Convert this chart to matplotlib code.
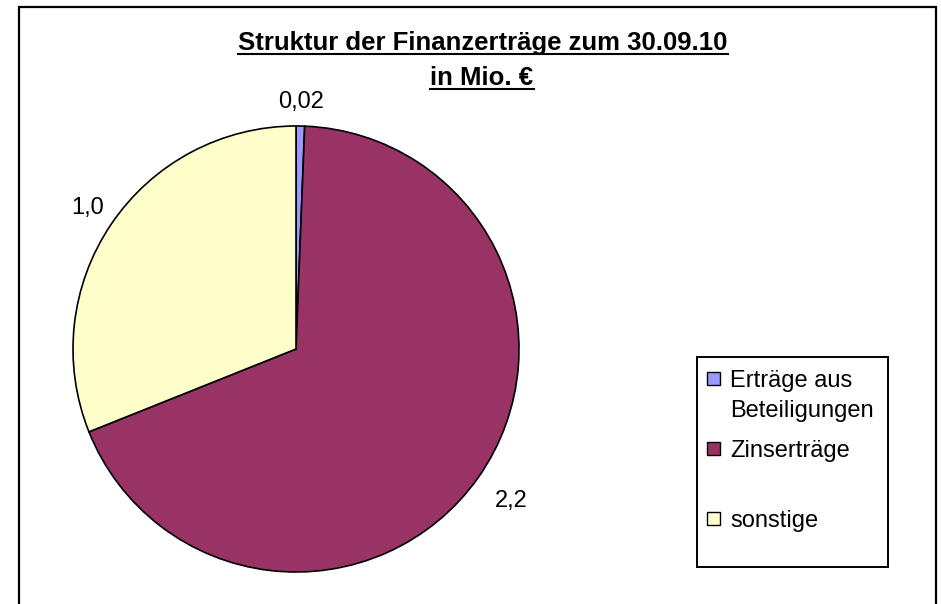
import numpy as np
import matplotlib
matplotlib.use('Agg')
from matplotlib import pyplot as plt
from matplotlib.patches import Rectangle
from matplotlib.lines import Line2D

plt.rcParams['font.family'] = ['Liberation Sans', 'DejaVu Sans']

# data
categories = ['Erträge aus\nBeteiligungen', 'Zinserträge', 'sonstige']
values = [0.02, 2.2, 1.0]
value_labels = ['0,02', '2,2', '1,0']
colors = ['#9999FF', '#993366', '#FFFFCC']
title_lines = ['Struktur der Finanzerträge zum 30.09.10', 'in Mio. €']

W, H = 941, 604
fig = plt.figure(figsize=(W / 100, H / 100), dpi=100)

def fx(px):
    return px / W

def fy(py):
    return 1 - py / H

# outer chart frame
fig.patches.append(Rectangle((fx(19), -0.02), fx(936) - fx(19), fy(7) + 0.02,
                             transform=fig.transFigure, fill=False,
                             edgecolor='black', linewidth=1.6))

# pie axes: center (296,349) px, radius 223 px
cx, cy, r = 296, 349, 223
ax = fig.add_axes([fx(cx - r), fy(cy + r), 2 * r / W, 2 * r / H])
wedges, texts = ax.pie(values, colors=colors, labels=value_labels, startangle=90,
                       counterclock=False, labeldistance=1.13,
                       wedgeprops=dict(edgecolor='black', linewidth=1.2),
                       textprops=dict(fontsize=17, color='black'))
# excel puts the value labels at slightly different distances
label_dist = [1.11, 1.18, 1.13]
for w, t, d in zip(wedges, texts, label_dist):
    ang = np.deg2rad((w.theta1 + w.theta2) / 2)
    t.set_position((d * np.cos(ang), d * np.sin(ang)))
    t.set_horizontalalignment('center')
ax.set_xlim(-1, 1)
ax.set_ylim(-1, 1)
ax.axis('off')

# title (underlined, like Excel)
title_x = [483, 482]
title_base = [50, 85]
fig.canvas.draw()
rend = fig.canvas.get_renderer()
for line, x, yb in zip(title_lines, title_x, title_base):
    t = fig.text(fx(x), fy(yb), line, ha='center', va='baseline',
                 fontsize=18.5, fontweight='bold')
    bb = t.get_window_extent(rend)
    fig.lines.append(Line2D([bb.x0 / W, bb.x1 / W], [fy(yb + 4), fy(yb + 4)],
                            transform=fig.transFigure, color='black', linewidth=1.5))

# legend box, drawn the way Excel lays it out
fig.patches.append(Rectangle((fx(697), fy(567)), fx(888) - fx(697), fy(357) - fy(567),
                             transform=fig.transFigure, facecolor='white',
                             edgecolor='black', linewidth=1.4))
swatch_y = [378, 448, 518]
text_base = [387, 457, 527]
for lab, col, sy, tb in zip(categories, colors, swatch_y, text_base):
    fig.patches.append(Rectangle((fx(707), fy(sy + 6.5)), 13 / W, 13 / H,
                                 transform=fig.transFigure, facecolor=col,
                                 edgecolor='black', linewidth=1.0))
    for k, part in enumerate(lab.split('\n')):
        fig.text(fx(730), fy(tb + 30 * k), part, ha='left', va='baseline', fontsize=17)

fig.savefig('out.png', dpi=100)
